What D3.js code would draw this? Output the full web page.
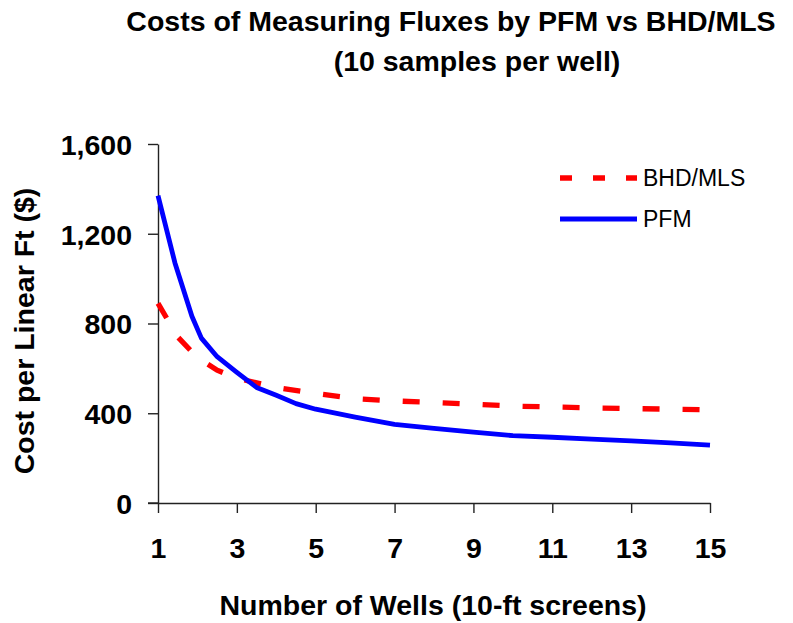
<!DOCTYPE html>
<html>
<head>
<meta charset="utf-8">
<script src="https://cdn.jsdelivr.net/npm/d3@7"></script>
<style>
  html, body { margin: 0; padding: 0; background: #fff; }
  svg { display: block; }
  text { font-family: "Liberation Sans", Arial, sans-serif; }
</style>
</head>
<body>
<svg id="chart" width="793" height="623"></svg>
<script>
// ---- data ----
const titleLines = ["Costs of Measuring Fluxes by PFM vs BHD/MLS", "(10 samples per well)"];
const xTitle = "Number of Wells (10-ft screens)";
const yTitle = "Cost per Linear Ft ($)";
const xTicks = [1, 3, 5, 7, 9, 11, 13, 15];
const yTicks = [0, 400, 800, 1200, 1600];
const seriesNames = ["BHD/MLS", "PFM"];

const bhdWells = [1, 1.5, 2, 2.5, 3, 4, 5, 6, 7, 8, 9, 10, 11, 12, 13, 14, 15];
const bhdCost  = [890, 740, 648, 592, 556, 515, 488, 465, 455, 448, 440, 432, 428, 424, 421, 418, 415];

const pfmWells = [1, 1.43, 1.86, 2.1, 2.5, 3, 3.5, 4, 4.5, 5, 6, 7, 8, 9, 10, 11, 12, 13, 14, 15];
const pfmCost  = [1370, 1070, 832, 735, 652, 582, 515, 480, 443, 418, 383, 350, 333, 316, 300, 293, 285, 277, 268, 258];

// ---- chart ----
const svg = d3.select("#chart");
const x = d3.scaleLinear().domain([1, 15]).range([158, 710]);
const y = d3.scaleLinear().domain([0, 1600]).range([503, 144]);
const axisColor = "#222";

// title
const tl = svg.append("g");
tl.append("text").attr("x", 451).attr("y", 31).attr("text-anchor", "middle")
  .attr("font-weight", "bold").attr("font-size", "28.5px").text(titleLines[0]);
tl.append("text").attr("x", 477).attr("y", 71).attr("text-anchor", "middle")
  .attr("font-weight", "bold").attr("font-size", "28.5px").text(titleLines[1]);

// axes
const yAxis = d3.axisLeft(y).tickValues(yTicks).tickSize(10).tickSizeOuter(0)
  .tickPadding(16).tickFormat(d3.format(","));
const gy = svg.append("g").attr("transform", "translate(158,0)").call(yAxis);

const xAxis = d3.axisBottom(x).tickValues(xTicks).tickSize(10).tickSizeOuter(0)
  .tickPadding(25).tickFormat(d3.format("d"));
const gx = svg.append("g").attr("transform", "translate(0,503)").call(xAxis);
gx.append("line").attr("x1", 148).attr("x2", 158).attr("y1", 0).attr("y2", 0);

[gx, gy].forEach(g => {
  g.selectAll("path.domain").attr("stroke", axisColor).attr("stroke-width", 1.4);
  g.selectAll("line").attr("stroke", axisColor).attr("stroke-width", 1.4);
  g.selectAll("text").attr("font-family", "Liberation Sans, Arial, sans-serif")
    .attr("font-weight", "bold").attr("font-size", "28.5px").attr("fill", "#000");
});
gy.selectAll("text").attr("dy", "0.36em");

// axis titles
svg.append("text").attr("x", 433).attr("y", 615).attr("text-anchor", "middle")
  .attr("font-weight", "bold").attr("font-size", "28.5px").text(xTitle);
svg.append("text").attr("transform", "translate(34,331) rotate(-90)").attr("text-anchor", "middle")
  .attr("font-weight", "bold").attr("font-size", "28.5px").text(yTitle);

// lines
const bhdData = bhdWells.map((w, i) => [w, bhdCost[i]]);
const pfmData = pfmWells.map((w, i) => [w, pfmCost[i]]);
const line = d3.line().x(d => x(d[0])).y(d => y(d[1]));

svg.append("path").datum(bhdData).attr("d", line)
  .attr("fill", "none").attr("stroke", "#ff0000").attr("stroke-width", 5.3)
  .attr("stroke-dasharray", "17,23").attr("stroke-linecap", "butt");
svg.append("path").datum(pfmData).attr("d", line)
  .attr("fill", "none").attr("stroke", "#0000ff").attr("stroke-width", 4.8)
  .attr("stroke-linejoin", "round");

// legend
const lg = svg.append("g");
lg.append("line").attr("x1", 560).attr("x2", 637).attr("y1", 178).attr("y2", 178)
  .attr("stroke", "#ff0000").attr("stroke-width", 5.5).attr("stroke-dasharray", "12,21");
lg.append("text").attr("x", 643).attr("y", 186).attr("font-size", "23px").text(seriesNames[0]);
lg.append("line").attr("x1", 560).attr("x2", 637).attr("y1", 219).attr("y2", 219)
  .attr("stroke", "#0000ff").attr("stroke-width", 5.2);
lg.append("text").attr("x", 643).attr("y", 227).attr("font-size", "23px").text(seriesNames[1]);
</script>
</body>
</html>
